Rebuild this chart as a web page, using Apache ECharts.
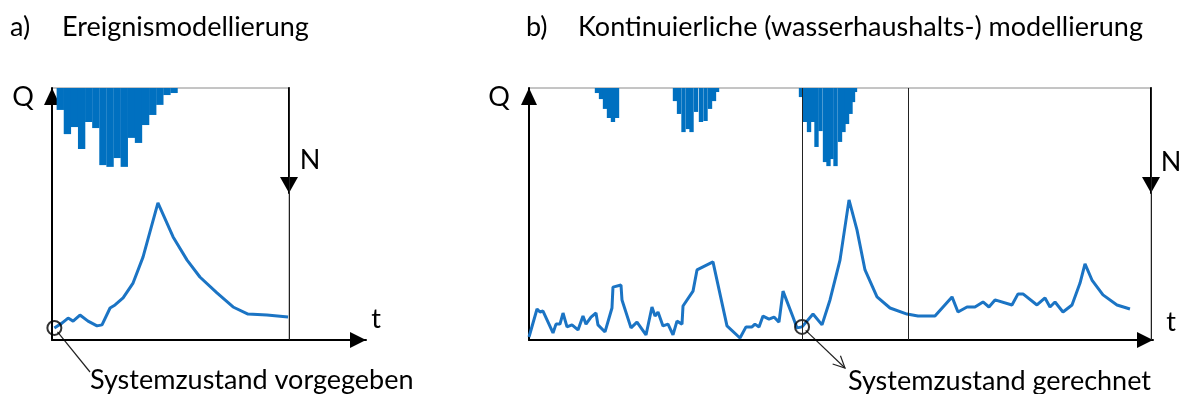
<!DOCTYPE html>
<html>
<head>
<meta charset="utf-8">
<script src="https://cdn.jsdelivr.net/npm/echarts@6/dist/echarts.min.js"></script>
<style>
  html, body { margin: 0; padding: 0; background: #fff; }
  #chart { width: 1182px; height: 394px; }
</style>
</head>
<body>
<div id="chart"></div>
<script>
// (a) Event model: discharge Q over one storm event (time 0..100 = simulated window)
const eventTime = [1, 4.2, 6.8, 8.9, 11.8, 15.2, 19, 21.1, 24.5, 26.6, 30, 34.2, 38.4, 44.7, 51.1, 57, 62.4, 69.6, 76.4, 82.7, 90.7, 99.6];
const eventQ    = [4.8, 6.7, 8.7, 7.5, 9.9, 7.5, 5.6, 6, 12.7, 13.9, 16.7, 22.6, 32.9, 54.4, 40.9, 31.7, 25, 18.7, 13.1, 10.3, 9.9, 9.1];

// (a) Event rainfall N: bar centres and depths (hanging from the top)
const eventRainTime  = [3.5, 6.5, 9.5, 12.5, 15.5, 18.5, 21.5, 24.5, 27.5, 30.5, 33.5, 36.5, 39.5, 42.5, 45.5, 48.5, 51.5];
const eventRainDepth = [8.7, 18.3, 15.5, 24.2, 13.5, 15.9, 30.6, 31.3, 27.8, 31.3, 19.8, 21.8, 14.7, 10.7, 6.7, 2.8, 2];

// (b) Continuous water-balance model: discharge Q over the whole period
const contTime = [0, 1.29, 1.77, 2.25, 3.86, 4.34, 4.98, 5.47, 6.11, 6.91, 7.88, 8.68, 9.16, 9.97, 10.77, 11.09, 12.22, 13.34, 13.5, 14.79, 14.95,
  16.4, 17.36, 18.81, 19.77, 20.26, 20.74, 21.54, 22.35, 23.15, 23.79, 24.6, 24.76, 26.37, 27.01, 29.58, 31.83, 33.92, 34.89, 35.85,
  36.33, 36.98, 37.62, 38.59, 39.39, 40.19, 40.84, 42.44, 43.09, 43.9, 45.66, 47.11, 48.39, 50, 51.45, 52.73, 54.02, 55.95, 58.04,
  60.77, 62.54, 65.27, 68.01, 68.97, 70.42, 71.7, 72.99, 73.95, 74.92, 77.65, 78.62, 79.42, 81.67, 82.96, 83.76, 84.57, 85.85, 87.3,
  88.59, 89.39, 90.51, 92.28, 94.53, 96.62];
const contQ = [1.2, 12.3, 11.1, 11.5, 2.8, 6.3, 6.3, 10.7, 5.2, 6, 4, 9.5, 6.3, 9.1, 10.7, 6, 3.2, 12.7, 21, 21.8, 15.9,
  4.8, 7.1, 2, 13.1, 9.5, 11.1, 5.6, 6.3, 2, 7.5, 6.3, 13.5, 19.4, 27.8, 31, 5.6, 0.8, 5.2, 5.2,
  6.3, 5.2, 9.5, 8.3, 9.1, 7.1, 19.4, 9.1, 4.8, 5.2, 10.3, 6, 15.9, 31.7, 55.6, 43.7, 27.8, 17.1, 12.7,
  10.3, 9.5, 9.5, 17.1, 11.1, 13.1, 13.1, 15.1, 13.1, 15.9, 13.9, 18.3, 18.3, 13.9, 16.7, 13.1, 15.1, 11.1, 13.9,
  22.6, 30.2, 23.8, 17.9, 13.9, 12.3];

// (b) Rainfall N: three storms, bar centres and depths
const contRainTime  = [10.93, 11.58, 12.22, 12.86, 13.5, 14.15,
  23.47, 24.12, 24.84, 25.56, 26.13, 26.85, 27.65, 28.38, 29.1, 29.74, 30.23,
  43.73, 44.37, 45.02, 45.66, 46.22, 46.86, 47.59, 48.15, 48.63, 49.28, 50, 50.56, 51.13, 51.69, 52.09, 52.41];
const contRainDepth = [2, 4.4, 8.3, 11.9, 13.5, 11.9,
  5.2, 10.3, 17.5, 16.3, 17.5, 9.5, 13.5, 13.1, 8.3, 5.2, 1.6,
  3.6, 13.5, 17.5, 13.5, 23.4, 17.1, 29.4, 31, 28.2, 31, 21.4, 17.5, 14.3, 10.3, 5.6, 1.6];

// (b) start and end of the event window inside the continuous run
const eventWindow = [43.9, 60.9];

// Texts
const titleLetters = ['a)', 'b)'];
const titles = ['Ereignismodellierung', 'Kontinuierliche (wasserhaushalts-) modellierung'];
const stateNotes = ['Systemzustand vorgegeben', 'Systemzustand gerechnet'];
const axisNames = { q: 'Q', t: 't', n: 'N' };

const FONT = 'Lato, "Open Sans", sans-serif';
const RAIN_BLUE = '#0070C0';
const LINE_BLUE = '#1B74C4';

// barSpan: width of one rainfall interval in time units
const panels = [
  { left: 52, right: 289, axisEnd: 366, top: 88, bottom: 340, nTip: 193,
    time: eventTime, q: eventQ, rainT: eventRainTime, rainD: eventRainDepth, barSpan: 3.1,
    marks: [100], stateT: eventTime[0], stateQ: eventQ[0] },
  { left: 529, right: 1151, axisEnd: 1153, top: 88, bottom: 340, nTip: 193,
    time: contTime, q: contQ, rainT: contRainTime, rainD: contRainDepth, barSpan: 0.7,
    marks: eventWindow.concat([100]), stateT: eventWindow[0], stateQ: contQ[contTime.indexOf(eventWindow[0])] }
];

const grid = [], xAxis = [], yAxis = [], series = [];
const hidden = { show: false };

// axis line with a filled triangle whose tip sits on the end (or start) of the line
function arrowLine(size, atStart) {
  return {
    show: true, onZero: false,
    lineStyle: { color: '#000', width: 2 },
    symbol: atStart ? ['triangle', 'none'] : ['none', 'triangle'],
    symbolSize: size,
    symbolOffset: atStart ? [size[1] / 2, 0] : [0, -size[1] / 2]
  };
}

// hanging rainfall block: spans one interval, from the top line down to its depth
function rainBlock(span) {
  return function (params, api) {
    const t = api.value(0), d = api.value(1);
    const a = api.coord([t - span / 2, 0]);
    const b = api.coord([t + span / 2, d]);
    return { type: 'rect', shape: { x: a[0], y: a[1], width: b[0] - a[0], height: b[1] - a[1] },
             style: { fill: RAIN_BLUE } };
  };
}

panels.forEach(function (p, k) {
  const boxW = p.right - p.left;
  const h = p.bottom - p.top;
  const base = k * 3;
  const tMax = 100 * (p.axisEnd - p.left) / boxW;

  // main plot: Q over t, with arrowed axes
  grid.push({ left: p.left, top: p.top, width: p.axisEnd - p.left, height: h });
  // box frame holding the rainfall bars
  grid.push({ left: p.left, top: p.top, width: boxW, height: h, show: true,
              borderColor: '#8a8a8a', borderWidth: 1, backgroundColor: 'transparent' });
  // N arrow on the right edge of the box, pointing down
  grid.push({ left: p.left, top: p.top, width: boxW, height: p.nTip - p.top });

  xAxis.push({ gridIndex: base, type: 'value', min: 0, max: tMax,
    axisLine: arrowLine([16, 16]), axisTick: hidden, axisLabel: hidden, splitLine: hidden });
  yAxis.push({ gridIndex: base, type: 'value', min: 0, max: 100,
    axisLine: arrowLine([16, 17]), axisTick: hidden, axisLabel: hidden, splitLine: hidden });

  xAxis.push({ gridIndex: base + 1, type: 'value', min: 0, max: 100, show: false });
  yAxis.push({ gridIndex: base + 1, type: 'value', min: 0, max: 100, inverse: true, show: false });

  xAxis.push({ gridIndex: base + 2, type: 'value', min: 0, max: 100, show: false });
  yAxis.push({ gridIndex: base + 2, type: 'value', min: 0, max: 1, position: 'right',
    axisLine: arrowLine([18, 16], true), axisTick: hidden, axisLabel: hidden, splitLine: hidden });

  series.push({
    type: 'custom', coordinateSystem: 'cartesian2d', xAxisIndex: base + 1, yAxisIndex: base + 1,
    data: p.rainT.map(function (t, i) { return [t, p.rainD[i]]; }),
    renderItem: rainBlock(p.barSpan), silent: true, z: 1
  });

  series.push({
    type: 'line', xAxisIndex: base, yAxisIndex: base,
    data: p.time.map(function (t, i) { return [t, p.q[i]]; }),
    showSymbol: false, lineStyle: { color: LINE_BLUE, width: 3 }, silent: true, z: 3,
    markLine: {
      silent: true, symbol: ['none', 'none'], label: { show: false },
      lineStyle: { color: '#222', width: 1, type: 'solid' },
      data: p.marks.map(function (m) { return { xAxis: m }; })
    }
  });

  series.push({
    type: 'scatter', xAxisIndex: base, yAxisIndex: base,
    data: [[p.stateT, p.stateQ]], symbol: 'circle', symbolSize: 14, silent: true, z: 4,
    itemStyle: { color: 'rgba(0,0,0,0)', borderColor: '#000', borderWidth: 2 }
  });
});

function label(text, x, y, size, align) {
  return { type: 'text', x: x, y: y, silent: true,
    style: { text: text, fontSize: size, fontFamily: FONT, fill: '#000',
             align: align || 'left', verticalAlign: 'middle' } };
}

const chart = echarts.init(document.getElementById('chart'), null, { renderer: 'canvas' });
chart.setOption({ animation: false, backgroundColor: '#fff', grid: grid, xAxis: xAxis, yAxis: yAxis, series: series });

// Annotation texts and leader lines from the state circles
const texts = [
  label(titleLetters[0], 10, 27, 27),
  label(titles[0], 62, 27, 27),
  label(titleLetters[1], 526, 27, 27),
  label(titles[1], 578, 27, 27),
  label(axisNames.q, 23, 97, 27, 'center'),
  label(axisNames.q, 499, 97, 27, 'center'),
  label(axisNames.n, 310, 160, 27, 'center'),
  label(axisNames.n, 1171, 162, 27, 'center'),
  label(axisNames.t, 376, 319, 27, 'center'),
  label(axisNames.t, 1171, 322, 27, 'center'),
  label(stateNotes[0], 90, 380, 27),
  label(stateNotes[1], 848, 381, 27)
];

const leaderEnds = [[90, 372], [845, 368]];
const leaders = [];
panels.forEach(function (p, k) {
  const c = chart.convertToPixel({ xAxisIndex: k * 3, yAxisIndex: k * 3 }, [p.stateT, p.stateQ]);
  const e = leaderEnds[k];
  const dx = e[0] - c[0], dy = e[1] - c[1];
  const len = Math.sqrt(dx * dx + dy * dy);
  const ux = dx / len, uy = dy / len;
  const s = [c[0] + ux * 5, c[1] + uy * 5];
  leaders.push({ type: 'line', silent: true,
    shape: { x1: s[0], y1: s[1], x2: e[0], y2: e[1] },
    style: { stroke: '#222', lineWidth: 1.2 } });
  if (k === 1) {
    const ang = Math.atan2(dy, dx), a = 0.45, L = 13;
    leaders.push({ type: 'polyline', silent: true,
      shape: { points: [
        [e[0] - L * Math.cos(ang - a), e[1] - L * Math.sin(ang - a)],
        [e[0], e[1]],
        [e[0] - L * Math.cos(ang + a), e[1] - L * Math.sin(ang + a)]
      ] },
      style: { stroke: '#222', lineWidth: 1.2, fill: null } });
  }
});

chart.setOption({ graphic: texts.concat(leaders) });
</script>
</body>
</html>
